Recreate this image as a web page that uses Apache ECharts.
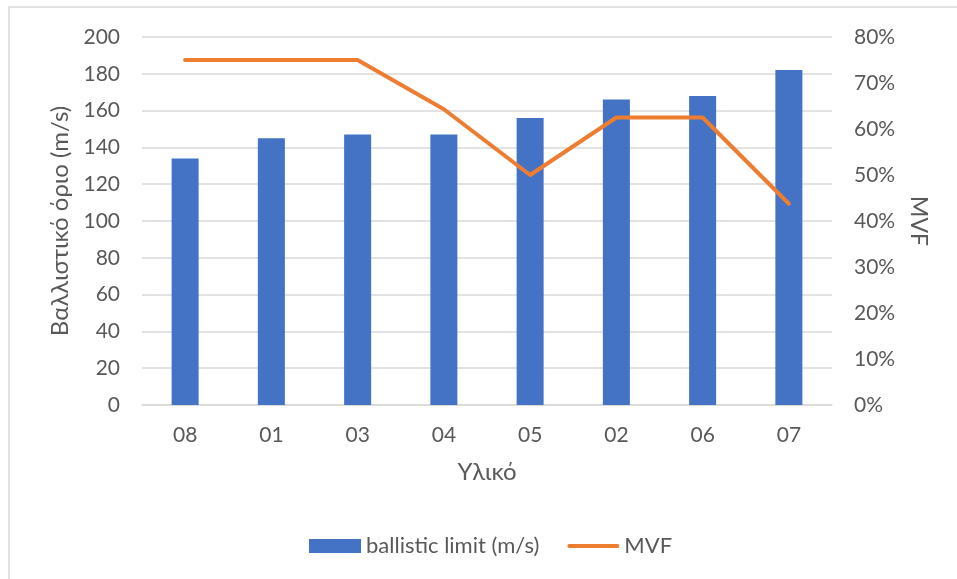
<!DOCTYPE html>
<html>
<head>
<meta charset="utf-8">
<script src="https://cdn.jsdelivr.net/npm/echarts@6/dist/echarts.min.js"></script>
<style>
  html, body { margin: 0; padding: 0; background: #fff; }
  #chart { width: 957px; height: 579px; }
</style>
</head>
<body>
<div id="chart"></div>
<script>
// Materials on the category axis
const categories = ['08', '01', '03', '04', '05', '02', '06', '07'];
// Ballistic limit per material (m/s)
const ballisticLimit = [134, 145, 147, 147, 156, 166, 168, 182];
// Matrix volume fraction per material (fraction)
const mvf = [0.75, 0.75, 0.75, 0.643, 0.50, 0.625, 0.625, 0.4375];

const textColor = '#595959';
const fontFamily = 'Lato, "Open Sans", sans-serif';

const chart = echarts.init(document.getElementById('chart'), null, { renderer: 'canvas' });
chart.setOption({
  animation: false,
  backgroundColor: '#ffffff',
  textStyle: { fontFamily: fontFamily, color: textColor },
  graphic: [{
    type: 'rect',
    shape: { x: 9, y: 7, width: 1000, height: 700 },
    style: { fill: 'none', stroke: '#d9d9d9', lineWidth: 1.5 },
    silent: true
  }],
  grid: { left: 142, right: 125, top: 37, bottom: 174 },
  legend: {
    bottom: 17,
    left: 304,
    itemWidth: 52,
    itemHeight: 14,
    itemGap: 28,
    textStyle: { fontSize: 22, color: textColor, fontFamily: fontFamily },
    data: [
      { name: 'ballistic limit (m/s)', icon: 'rect' },
      { name: 'MVF', icon: 'path://M2,0 L50,0 A2,2 0 0 1 50,4 L2,4 A2,2 0 0 1 2,0 Z' }
    ]
  },
  xAxis: {
    type: 'category',
    data: categories,
    name: 'Υλικό',
    nameLocation: 'middle',
    nameGap: 55,
    nameTextStyle: { fontSize: 24, color: textColor, fontFamily: fontFamily },
    axisLine: { lineStyle: { color: '#d9d9d9', width: 1.5 } },
    axisTick: { show: false },
    axisLabel: { fontSize: 21, color: textColor, margin: 20 }
  },
  yAxis: [{
    type: 'value',
    min: 0, max: 200, interval: 20,
    name: 'Βαλλιστικό όριο (m/s)',
    nameLocation: 'middle',
    nameGap: 68,
    nameTextStyle: { fontSize: 24, color: textColor, fontFamily: fontFamily },
    axisLabel: { fontSize: 21, color: textColor, margin: 22 },
    splitLine: { lineStyle: { color: '#d9d9d9', width: 1.5 } },
    axisLine: { show: false },
    axisTick: { show: false }
  }, {
    type: 'value',
    min: 0, max: 0.8, interval: 0.1,
    name: 'MVF',
    nameLocation: 'middle',
    nameGap: 75,
    nameRotate: -90,
    nameTextStyle: { fontSize: 23, color: textColor, fontFamily: fontFamily },
    axisLabel: {
      fontSize: 21, color: textColor, margin: 22,
      formatter: v => Math.round(v * 100) + '%'
    },
    splitLine: { show: false },
    axisLine: { show: false },
    axisTick: { show: false }
  }],
  series: [{
    name: 'ballistic limit (m/s)',
    type: 'bar',
    data: ballisticLimit,
    barWidth: 27,
    itemStyle: { color: '#4472C4' }
  }, {
    name: 'MVF',
    type: 'line',
    yAxisIndex: 1,
    data: mvf,
    symbol: 'none',
    symbolKeepAspect: true,
    lineStyle: { color: '#ED7D31', width: 4, cap: 'round', join: 'round' },
    itemStyle: { color: '#ED7D31' }
  }]
});
</script>
</body>
</html>
